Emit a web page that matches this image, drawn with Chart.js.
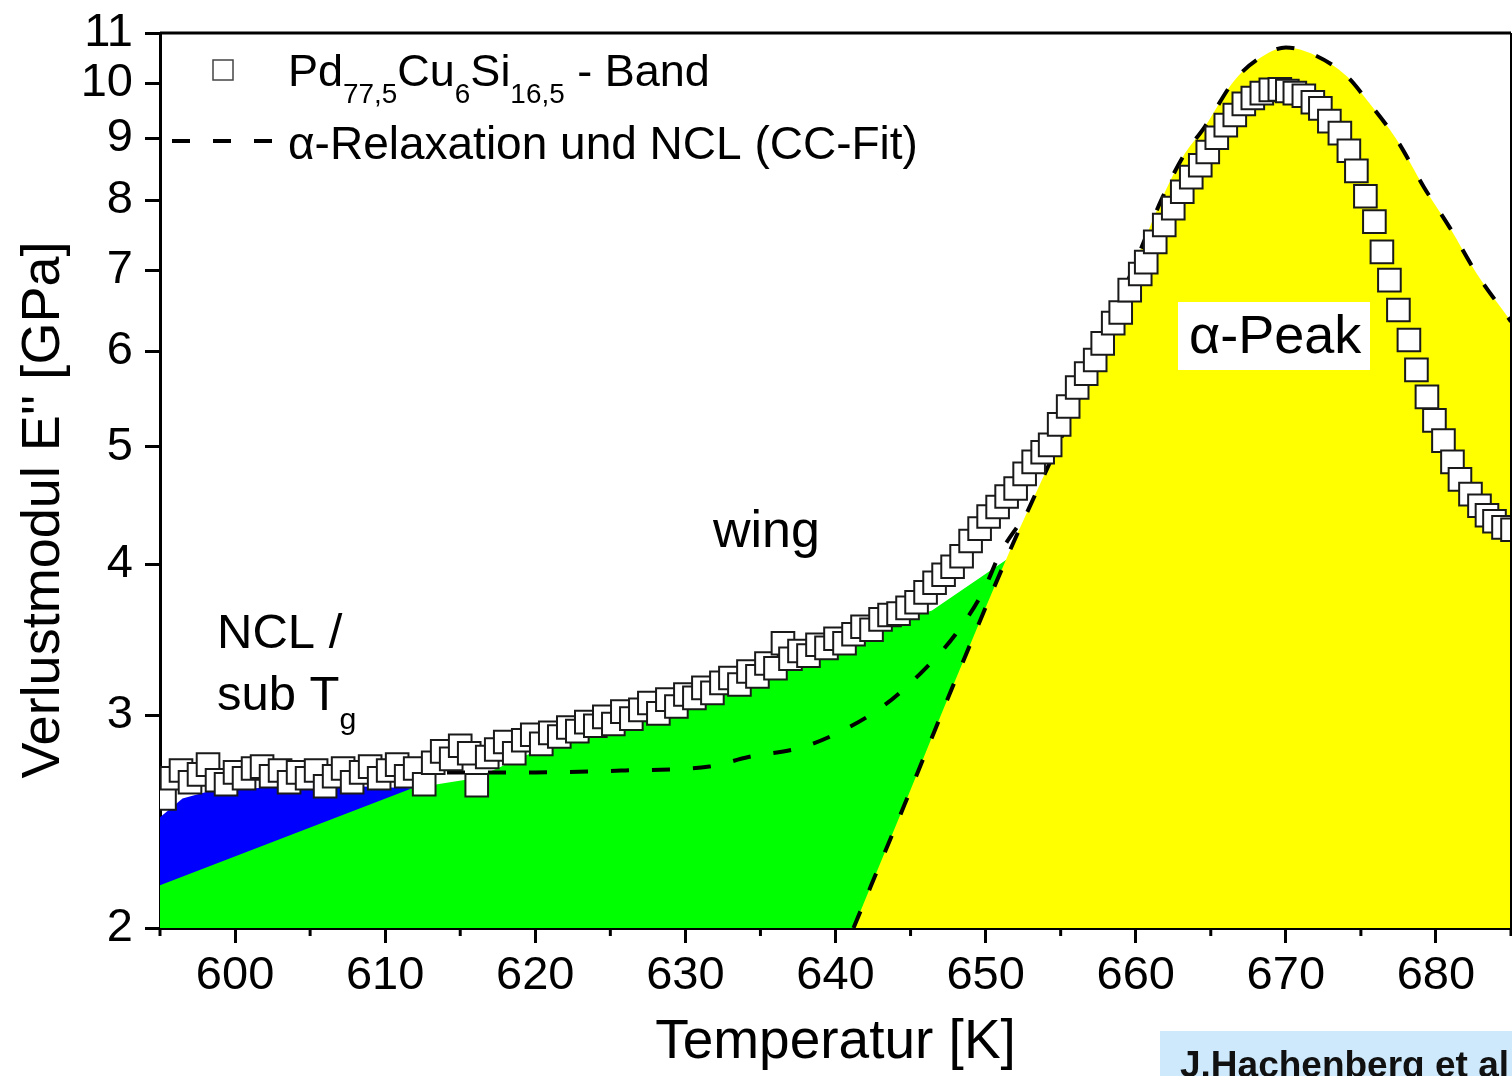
<!DOCTYPE html>
<html>
<head>
<meta charset="utf-8">
<script src="https://cdn.jsdelivr.net/npm/chart.js@4.4.1/dist/chart.umd.min.js"></script>
<style>
  html, body { margin: 0; padding: 0; background: #fff; }
</style>
</head>
<body>
<canvas id="lossChart" width="1512" height="1076"></canvas>
<script>
const FONT = "'Liberation Sans', Arial, Helvetica, sans-serif";

// Pd77,5Cu6Si16,5 ribbon: temperature [K] and loss modulus E'' [GPa]
const bandT = [
  595.3, 595.8, 596.4, 597.0, 597.6, 598.2, 598.8, 599.4, 600.0, 600.6,
  601.2, 601.8, 602.4, 603.0, 603.6, 604.2, 604.8, 605.4, 606.0, 606.6,
  607.2, 607.8, 608.4, 609.0, 609.6, 610.2, 610.8, 611.4, 612.0, 612.6,
  613.2, 613.8, 614.4, 615.0, 615.6, 616.1, 616.8, 617.4, 618.0, 618.6,
  619.2, 619.8, 620.4, 621.0, 621.6, 622.2, 622.8, 623.4, 624.0, 624.6,
  625.2, 625.8, 626.4, 627.0, 627.6, 628.2, 628.8, 629.4, 630.0, 630.6,
  631.2, 631.8, 632.4, 633.0, 633.6, 634.2, 634.8, 635.4, 636.0, 636.5,
  637.0, 637.6, 638.2, 638.8, 639.4, 640.0, 640.6, 641.2, 641.8, 642.4,
  643.0, 643.6, 644.2, 644.8, 645.4, 646.0, 646.6, 647.2, 647.8, 648.4,
  649.0, 649.6, 650.2, 650.8, 651.4, 652.0, 652.6, 653.2, 653.8, 654.3,
  654.9, 655.5, 656.1, 656.7, 657.3, 657.8, 658.5, 659.0, 659.6, 660.3,
  660.7, 661.3, 661.9, 662.5, 663.1, 663.7, 664.3, 664.8, 665.4, 666.0,
  666.6, 667.2, 667.8, 668.4, 669.0, 669.6, 670.1, 670.6, 671.2, 671.8,
  672.3, 672.9, 673.6, 674.2, 674.7, 675.3, 675.9, 676.4, 676.9, 677.5,
  678.2, 678.7, 679.4, 679.9, 680.5, 681.1, 681.6, 682.3, 682.9, 683.4,
  683.9, 684.5, 685.1
];
const bandE = [
  2.56, 2.66, 2.70, 2.64, 2.68, 2.73, 2.65, 2.63, 2.69, 2.66,
  2.71, 2.72, 2.67, 2.70, 2.64, 2.69, 2.66, 2.70, 2.62, 2.67,
  2.71, 2.64, 2.69, 2.72, 2.66, 2.70, 2.73, 2.67, 2.71, 2.63,
  2.74, 2.80, 2.76, 2.83, 2.79, 2.625, 2.77, 2.81, 2.85, 2.79,
  2.86, 2.89, 2.84, 2.90, 2.88, 2.93, 2.91, 2.96, 2.94, 2.99,
  2.95, 3.02, 2.98, 3.03, 3.07, 3.01, 3.09, 3.05, 3.12, 3.10,
  3.16, 3.13, 3.19, 3.22, 3.18, 3.26, 3.23, 3.31, 3.28, 3.44,
  3.34, 3.39, 3.36, 3.43, 3.41, 3.47, 3.44, 3.50, 3.55, 3.53,
  3.60, 3.63, 3.64, 3.68, 3.72, 3.79, 3.86, 3.92, 3.98, 4.06,
  4.18, 4.28, 4.38, 4.46, 4.55, 4.62, 4.75, 4.86, 4.95, 5.02,
  5.22, 5.40, 5.60, 5.75, 5.90, 6.09, 6.33, 6.46, 6.74, 6.95,
  7.11, 7.39, 7.63, 7.88, 8.13, 8.36, 8.55, 8.77, 9.01, 9.23,
  9.41, 9.61, 9.72, 9.81, 9.87, 9.88, 9.85, 9.81, 9.76, 9.64,
  9.53, 9.30, 9.09, 8.79, 8.46, 8.06, 7.68, 7.25, 6.87, 6.49,
  6.13, 5.79, 5.50, 5.26, 5.06, 4.86, 4.70, 4.57, 4.47, 4.39,
  4.34, 4.29, 4.27
];

// CC fit, alpha relaxation only (edge of the yellow peak)
const alphaT = [641.2, 644.6, 648.0, 651.6, 653.0, 654.5, 655.8, 657.0, 658.1, 659.3,
  660.5, 661.7, 663.1, 664.6, 666.6, 668.6, 670.0, 671.9, 674.1, 675.4,
  677.4, 679.2, 680.9, 682.7, 685.0];
const alphaE = [2.00, 2.53, 3.21, 4.10, 4.48, 4.92, 5.34, 5.79, 6.28, 6.78,
  7.37, 8.00, 8.67, 9.20, 10.06, 10.55, 10.70, 10.55, 10.12, 9.68,
  8.97, 8.20, 7.60, 6.96, 6.35];

// CC fit, alpha relaxation + NCL, until it joins the alpha curve
const fitT = [595.0, 610.0, 620.0, 626.0, 631.6, 634.2, 637.7, 640.4, 643.3, 646.0, 648.0, 649.8, 651.0, 652.6];
const fitE = [2.69, 2.69, 2.69, 2.70, 2.72, 2.77, 2.82, 2.91, 3.06, 3.28, 3.50, 3.79, 4.09, 4.38];

// shaded regions: NCL / sub Tg (blue) and wing (green), upper edges
const nclT = [595.0, 596.5, 598.5, 604.0, 608.0, 611.8];
const nclE = [2.47, 2.56, 2.60, 2.62, 2.62, 2.61];
const wingT = [595.0, 611.8, 616.0, 620.0, 625.0, 630.0, 634.0, 637.5, 641.0, 646.4, 651.6];
const wingE = [2.17, 2.61, 2.66, 2.80, 2.93, 3.06, 3.22, 3.45, 3.53, 3.66, 4.05];

const xTicks = [600, 610, 620, 630, 640, 650, 660, 670, 680];
const xMinorTicks = [595, 605, 615, 625, 635, 645, 655, 665, 675, 685];
const yTicks = [2, 3, 4, 5, 6, 7, 8, 9, 10, 11];

const pts = (xs, ys) => xs.map((v, i) => ({ x: v, y: ys[i] }));

function drawParts(ctx, parts, x, y, size) {
  parts.forEach(([txt, sub]) => {
    const s = sub ? size * 0.62 : size;
    ctx.font = `${s}px ${FONT}`;
    ctx.fillText(txt, x, y + (sub ? size * 0.38 : 0));
    x += ctx.measureText(txt).width;
  });
}

const plotExtras = {
  id: 'plotExtras',
  afterDraw(chart) {
    const { ctx, chartArea: area, scales: { x } } = chart;
    ctx.save();
    ctx.strokeStyle = '#000';
    ctx.fillStyle = '#000';

    // frame top and right
    ctx.lineWidth = 3;
    ctx.beginPath();
    ctx.moveTo(area.left, area.top);
    ctx.lineTo(area.right, area.top);
    ctx.stroke();
    ctx.lineWidth = 2;
    ctx.beginPath();
    ctx.moveTo(area.right, area.top);
    ctx.lineTo(area.right, area.bottom);
    ctx.stroke();

    // minor x ticks
    ctx.lineWidth = 3;
    xMinorTicks.forEach(v => {
      const px = x.getPixelForValue(v);
      ctx.beginPath();
      ctx.moveTo(px, area.bottom);
      ctx.lineTo(px, area.bottom + 8);
      ctx.stroke();
    });

    // legend
    ctx.textAlign = 'left';
    ctx.textBaseline = 'alphabetic';
    ctx.fillStyle = '#fff';
    ctx.strokeStyle = '#444';
    ctx.lineWidth = 1.5;
    ctx.fillRect(213, 60, 20, 20);
    ctx.strokeRect(213, 60, 20, 20);
    ctx.fillStyle = '#000';
    drawParts(ctx, [['Pd'], ['77,5', 1], ['Cu'], ['6', 1], ['Si'], ['16,5', 1], [' - Band']], 288, 86, 45);
    ctx.strokeStyle = '#000';
    ctx.lineWidth = 4;
    ctx.setLineDash([18, 23]);
    ctx.beginPath();
    ctx.moveTo(172, 141);
    ctx.lineTo(275, 141);
    ctx.stroke();
    ctx.setLineDash([]);
    drawParts(ctx, [['\u03b1-Relaxation und NCL (CC-Fit)']], 288, 159, 46);

    // region labels
    drawParts(ctx, [['NCL /']], 217, 648, 49);
    drawParts(ctx, [['sub T'], ['g', 1]], 217, 710, 49);
    drawParts(ctx, [['wing']], 713, 547, 52);
    ctx.fillStyle = '#fff';
    ctx.fillRect(1178, 302, 192, 68);
    ctx.fillStyle = '#000';
    drawParts(ctx, [['\u03b1-Peak']], 1189, 353, 54);

    // y axis title
    ctx.save();
    ctx.translate(44, 510);
    ctx.rotate(-Math.PI / 2);
    ctx.textAlign = 'center';
    ctx.textBaseline = 'middle';
    ctx.font = `54px ${FONT}`;
    ctx.fillText("Verlustmodul E'' [GPa]", 0, 0);
    ctx.restore();

    // credit
    ctx.fillStyle = '#cde9fb';
    ctx.fillRect(1160, 1031, 352, 45);
    ctx.fillStyle = '#111';
    ctx.font = `bold 37px ${FONT}`;
    ctx.fillText('J.Hachenberg et al', 1180, 1077);
    ctx.restore();
  }
};

new Chart(document.getElementById('lossChart'), {
  type: 'line',
  data: {
    datasets: [
      {
        label: 'Pd77,5Cu6Si16,5 - Band',
        data: pts(bandT, bandE),
        showLine: false,
        pointStyle: 'rect',
        pointRadius: 16,
        pointBorderWidth: 2,
        pointBorderColor: '#1a1a1a',
        pointBackgroundColor: '#fff',
        order: 0
      },
      {
        label: 'α-Relaxation und NCL (CC-Fit)',
        data: pts(fitT, fitE),
        borderColor: '#000',
        borderWidth: 4,
        borderDash: [18, 23],
        cubicInterpolationMode: 'monotone',
        pointRadius: 0,
        fill: false,
        order: 1
      },
      {
        label: 'α-Peak',
        data: pts(alphaT, alphaE),
        borderColor: '#000',
        borderWidth: 4,
        borderDash: [18, 23],
        cubicInterpolationMode: 'monotone',
        backgroundColor: '#ffff00',
        pointRadius: 0,
        fill: 'start',
        order: 2
      },
      {
        label: 'wing',
        data: pts(wingT, wingE),
        borderWidth: 0,
        borderColor: 'rgba(0,0,0,0)',
        backgroundColor: '#00ff00',
        pointRadius: 0,
        tension: 0,
        fill: 'start',
        order: 3
      },
      {
        label: 'NCL / sub Tg',
        data: pts(nclT, nclE),
        borderWidth: 0,
        borderColor: 'rgba(0,0,0,0)',
        backgroundColor: '#0000ff',
        pointRadius: 0,
        tension: 0,
        fill: 'start',
        order: 4
      }
    ]
  },
  options: {
    responsive: false,
    animation: false,
    layout: { autoPadding: false, padding: { top: 33, right: 1, left: 0, bottom: 0 } },
    plugins: { legend: { display: false }, tooltip: { enabled: false } },
    scales: {
      x: {
        type: 'linear',
        min: 595,
        max: 685,
        afterBuildTicks: s => { s.ticks = xTicks.map(v => ({ value: v })); },
        afterFit: s => { s.height = 148; s.paddingLeft = 0; s.paddingRight = 0; },
        grid: { drawOnChartArea: false, drawTicks: true, tickLength: 15, tickWidth: 3, tickColor: '#000' },
        border: { display: true, width: 3, color: '#000' },
        ticks: { color: '#000', font: { family: FONT, size: 47 }, padding: 5, maxRotation: 0, autoSkip: false, callback: v => String(v) },
        title: { display: true, text: 'Temperatur [K]', color: '#000', font: { family: FONT, size: 55, lineHeight: 1 }, padding: { top: 0, bottom: 6 } }
      },
      y: {
        type: 'logarithmic',
        min: 2,
        max: 11,
        afterBuildTicks: s => { s.ticks = yTicks.map(v => ({ value: v })); },
        afterFit: s => { s.width = 160; s.paddingTop = 0; s.paddingBottom = 0; },
        grid: { drawOnChartArea: false, drawTicks: true, tickLength: 15, tickWidth: 3, tickColor: '#000' },
        border: { display: true, width: 3, color: '#000' },
        ticks: { color: '#000', font: { family: FONT, size: 47 }, padding: 12, autoSkip: false, callback: v => String(v) }
      }
    }
  },
  plugins: [plotExtras]
});
</script>
</body>
</html>
